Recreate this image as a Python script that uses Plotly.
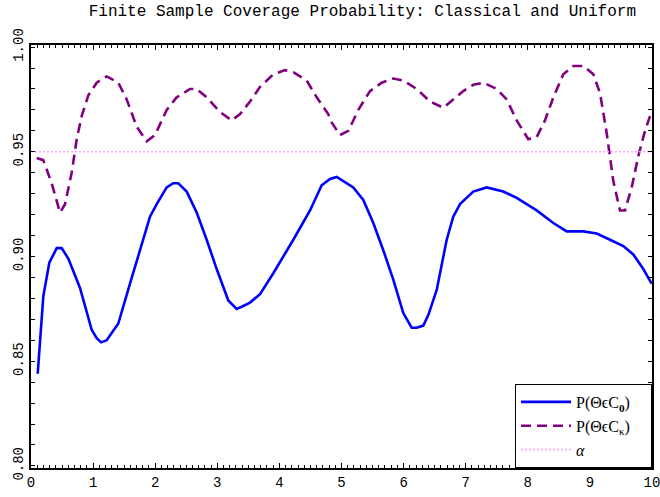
import plotly.graph_objects as go

# Classical coverage P(theta in C0)
x_c0 = [0.108, 0.198, 0.295, 0.414, 0.494, 0.601, 0.789, 0.977, 1.058, 1.13, 1.219, 1.406,
        1.594, 1.808, 1.916, 2.024, 2.185, 2.291, 2.372, 2.507, 2.668, 2.829, 2.990, 3.177,
        3.312, 3.393, 3.527, 3.688, 3.902, 4.224, 4.493, 4.681, 4.815, 4.923, 5.029, 5.190,
        5.351, 5.512, 5.673, 5.834, 5.995, 6.130, 6.211, 6.317, 6.398, 6.533, 6.694, 6.800,
        6.908, 7.122, 7.338, 7.605, 7.821, 8.143, 8.411, 8.626, 8.893, 9.109, 9.324, 9.538,
        9.699, 9.860, 9.995]
y_c0 = [0.844, 0.881, 0.897, 0.904, 0.904, 0.899, 0.885, 0.865, 0.861, 0.859, 0.860, 0.868,
        0.887, 0.909, 0.919, 0.925, 0.933, 0.935, 0.935, 0.931, 0.921, 0.908, 0.894, 0.879,
        0.875, 0.876, 0.878, 0.882, 0.892, 0.908, 0.922, 0.934, 0.937, 0.938, 0.936, 0.933,
        0.927, 0.916, 0.903, 0.889, 0.873, 0.866, 0.866, 0.867, 0.872, 0.884, 0.908, 0.919,
        0.925, 0.931, 0.933, 0.931, 0.928, 0.922, 0.916, 0.912, 0.912, 0.911, 0.908, 0.905,
        0.901, 0.894, 0.887]

# Uniform coverage P(theta in C_kappa)
x_ck = [0.092, 0.198, 0.333, 0.467, 0.548, 0.655, 0.736, 0.816, 0.923, 1.058, 1.219, 1.406,
        1.541, 1.702, 1.863, 1.997, 2.185, 2.346, 2.560, 2.668, 2.829, 3.043, 3.232, 3.366,
        3.527, 3.688, 3.902, 4.090, 4.224, 4.440, 4.601, 4.787, 4.842, 4.976, 5.110, 5.271,
        5.459, 5.647, 5.834, 5.995, 6.211, 6.425, 6.640, 6.800, 6.961, 7.122, 7.284, 7.499,
        7.660, 7.821, 8.008, 8.143, 8.277, 8.411, 8.572, 8.733, 8.894, 9.055, 9.163, 9.270,
        9.377, 9.485, 9.565, 9.673, 9.780, 9.887, 9.968]
y_ck = [0.947, 0.946, 0.935, 0.921, 0.925, 0.940, 0.956, 0.967, 0.977, 0.983, 0.986, 0.983,
        0.975, 0.962, 0.955, 0.958, 0.970, 0.976, 0.980, 0.980, 0.976, 0.969, 0.965, 0.968,
        0.974, 0.981, 0.987, 0.989, 0.988, 0.984, 0.976, 0.968, 0.964, 0.958, 0.960, 0.970,
        0.979, 0.983, 0.985, 0.984, 0.980, 0.974, 0.971, 0.975, 0.979, 0.982, 0.983, 0.980,
        0.975, 0.965, 0.956, 0.957, 0.965, 0.976, 0.987, 0.991, 0.991, 0.987, 0.978, 0.959,
        0.936, 0.922, 0.922, 0.933, 0.948, 0.960, 0.967]

# Nominal level
x_alpha = [0.0, 10.0]
y_alpha = [0.95, 0.95]

x_ticks = list(range(0, 11))
y_ticks = [0.80, 0.85, 0.90, 0.95, 1.00]
y_ticklabels = ["0.80", "0.85", "0.90", "0.95", "1.00"]

pad = "&nbsp;" * 4
fig = go.Figure()
fig.add_trace(go.Scatter(x=x_c0, y=y_c0, mode="lines", name="P(ΘϵC<sub><b>0</b></sub>)" + pad,
                         line=dict(color="#0000FF", width=2.6)))
fig.add_trace(go.Scatter(x=x_ck, y=y_ck, mode="lines", name="P(ΘϵC<sub>κ</sub>)" + pad,
                         line=dict(color="#800080", width=2.6, dash="10px,6px")))
fig.add_trace(go.Scatter(x=x_alpha, y=y_alpha, mode="lines", name="<i>α</i>",
                         line=dict(color="#FFA0FF", width=1.5, dash="2px,2px")))

mono = "Liberation Mono"
fig.update_layout(
    width=660, height=497,
    margin=dict(l=31, r=8, t=45, b=29, autoexpand=False),
    paper_bgcolor="white", plot_bgcolor="white",
    title=dict(text="Finite Sample Coverage Probability: Classical and Uniform",
               x=0.549, xref="container", xanchor="center",
               y=1 - 10 / 497, yref="container", yanchor="middle",
               font=dict(family=mono, size=16, color="black")),
    showlegend=True,
    legend=dict(x=1, y=0, xanchor="right", yanchor="bottom",
                bordercolor="black", borderwidth=1, bgcolor="white",
                font=dict(family="Liberation Serif", size=16, color="black"),
                itemwidth=50, tracegroupgap=0),
    xaxis=dict(range=[0, 10], tickvals=x_ticks, ticktext=[str(v) for v in x_ticks],
               automargin=False, ticklabeloverflow="allow",
               showgrid=False, zeroline=False, showline=True, linecolor="black", linewidth=2,
               mirror="allticks", ticks="inside", ticklen=5, tickcolor="black", tickwidth=1,
               minor=dict(dtick=0.1, ticks="inside", ticklen=3, tickcolor="black", tickwidth=1),
               tickfont=dict(family=mono, size=14, color="black")),
    yaxis=dict(range=[0.799, 1.001], tickvals=y_ticks, ticktext=y_ticklabels,
               automargin=False, ticklabeloverflow="allow",
               showgrid=False, zeroline=False, showline=True, linecolor="black", linewidth=2,
               mirror="allticks", ticks="inside", ticklen=4, tickcolor="black", tickwidth=1,
               minor=dict(dtick=0.01, ticks="inside", ticklen=4, tickcolor="black", tickwidth=1),
               tickangle=-90,
               tickfont=dict(family=mono, size=14, color="black")),
)
fig.write_html("out.html")
